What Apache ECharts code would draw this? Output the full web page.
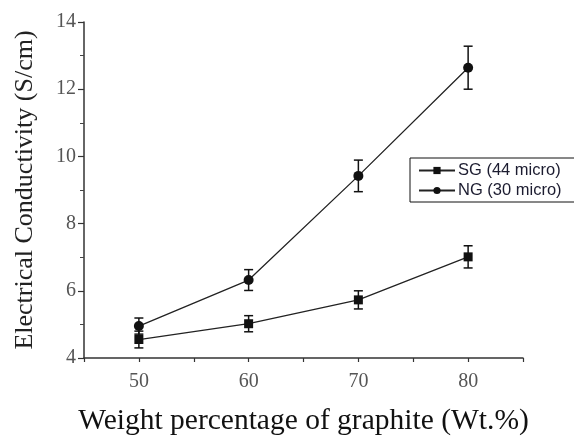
<!DOCTYPE html>
<html>
<head>
<meta charset="utf-8">
<script src="https://cdn.jsdelivr.net/npm/echarts@6/dist/echarts.min.js"></script>
<style>
  html, body { margin: 0; padding: 0; background: #fff; }
  #chart { width: 574px; height: 441px; }
</style>
</head>
<body>
<div id="chart"></div>
<script>
// weight percentage of graphite
const xValues = [50, 60, 70, 80];
// SG (44 micro)
const sgValues = [4.55, 5.02, 5.73, 7.01];
const sgErrors = [0.25, 0.24, 0.27, 0.33];
// NG (30 micro)
const ngValues = [4.95, 6.32, 9.42, 12.64];
const ngErrors = [0.24, 0.31, 0.47, 0.64];

const chart = echarts.init(document.getElementById('chart'));

// error bar drawn as a custom series, [x, low, high]
function errorData(vals, errs) {
  return xValues.map((x, i) => [x, vals[i] - errs[i], vals[i] + errs[i]]);
}
function renderError(params, api) {
  const x = api.value(0);
  const lo = api.coord([x, api.value(1)]);
  const hi = api.coord([x, api.value(2)]);
  const cap = 4.5;
  const style = { stroke: '#111', lineWidth: 1.5 };
  return {
    type: 'group',
    children: [
      { type: 'line', shape: { x1: lo[0], y1: lo[1], x2: hi[0], y2: hi[1] }, style },
      { type: 'line', shape: { x1: hi[0] - cap, y1: hi[1], x2: hi[0] + cap, y2: hi[1] }, style },
      { type: 'line', shape: { x1: lo[0] - cap, y1: lo[1], x2: lo[0] + cap, y2: lo[1] }, style }
    ]
  };
}

const serif = 'Liberation Serif';

chart.setOption({
  animation: false,
  grid: { left: 84, right: 51, top: 22, bottom: 78 },
  legend: {
    left: 410, top: 158,
    orient: 'vertical',
    data: ['SG (44 micro)', 'NG (30 micro)'],
    itemWidth: 36, itemHeight: 9, itemGap: 3,
    padding: [4, 14, 3, 8],
    borderColor: '#111', borderWidth: 1,
    textStyle: { fontFamily: 'Liberation Sans', fontSize: 16.5, color: '#1c1c30', padding: [0, 0, 0, -2] }
  },
  xAxis: {
    type: 'value', min: 45, max: 85, interval: 5,
    name: 'Weight percentage of graphite (Wt.%)',
    nameLocation: 'middle', nameGap: 48,
    nameTextStyle: { fontFamily: serif, fontSize: 29.5, color: '#111' },
    axisLine: { lineStyle: { color: '#333', width: 1.5 } },
    axisTick: { length: 4, lineStyle: { color: '#333', width: 1.2 } },
    axisLabel: {
      fontFamily: serif, fontSize: 20, color: '#555', margin: 14,
      formatter: v => (v % 10 === 0 ? String(v) : '')
    },
    splitLine: { show: false }
  },
  yAxis: {
    type: 'value', min: 4, max: 14, interval: 2,
    name: 'Electrical Conductivity (S/cm)',
    nameLocation: 'middle', nameGap: 46,
    nameTextStyle: { fontFamily: serif, fontSize: 26, color: '#222' },
    axisLine: { show: true, lineStyle: { color: '#333', width: 1.5 } },
    axisTick: { length: 6, lineStyle: { color: '#333', width: 1.2 } },
    minorTick: { show: true, splitNumber: 2, length: 4, lineStyle: { color: '#444', width: 1 } },
    axisLabel: { fontFamily: serif, fontSize: 20, color: '#555', margin: 8 },
    splitLine: { show: false }
  },
  series: [
    {
      name: 'SG (44 micro)', type: 'line',
      data: xValues.map((x, i) => [x, sgValues[i]]),
      symbol: 'rect', symbolSize: 9,
      itemStyle: { color: '#111' },
      lineStyle: { color: '#222', width: 1.3 },
      z: 3
    },
    {
      name: 'NG (30 micro)', type: 'line',
      data: xValues.map((x, i) => [x, ngValues[i]]),
      symbol: 'circle', symbolSize: 10,
      itemStyle: { color: '#111' },
      lineStyle: { color: '#222', width: 1.3 },
      z: 3
    },
    {
      type: 'custom', renderItem: renderError,
      data: errorData(sgValues, sgErrors), z: 2, silent: true
    },
    {
      type: 'custom', renderItem: renderError,
      data: errorData(ngValues, ngErrors), z: 2, silent: true
    }
  ]
});
</script>
</body>
</html>
